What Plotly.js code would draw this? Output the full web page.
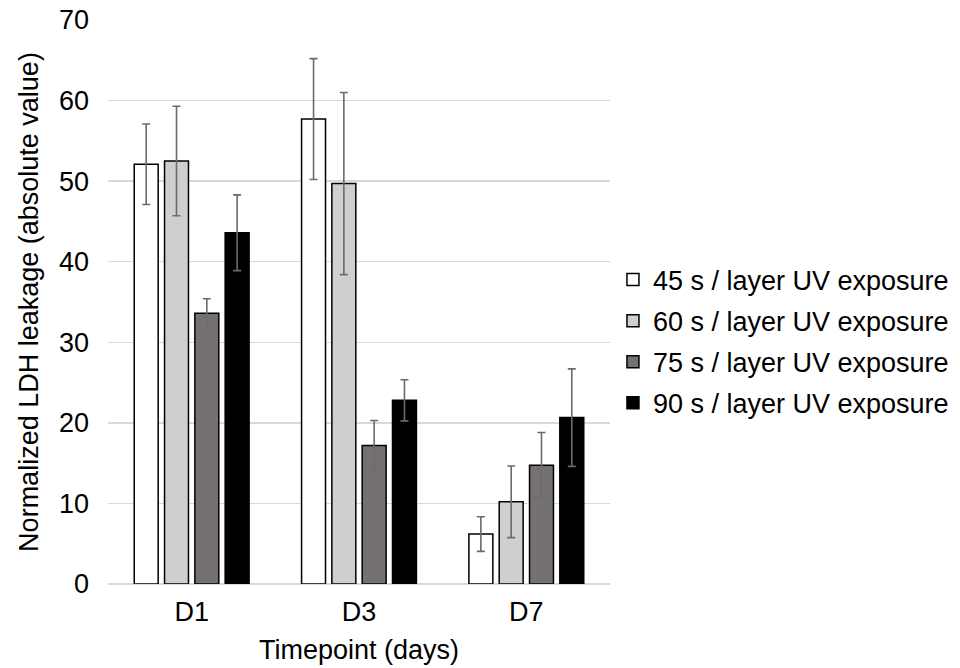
<!DOCTYPE html>
<html>
<head>
<meta charset="utf-8">
<script src="https://cdn.plot.ly/plotly-3.0.1.min.js"></script>
<style>html,body{margin:0;padding:0;background:#fff;}#chart{width:960px;height:668px;}</style>
</head>
<body>
<div id="chart"></div>
<script>
const categories = ["D1", "D3", "D7"];
const seriesNames = ["45 s / layer UV exposure", "60 s / layer UV exposure", "75 s / layer UV exposure", "90 s / layer UV exposure"];
const values45 = [52.1, 57.7, 6.2];
const errors45 = [5.0, 7.5, 2.15];
const values60 = [52.5, 49.7, 10.2];
const errors60 = [6.8, 11.3, 4.45];
const values75 = [33.6, 17.2, 14.75];
const errors75 = [1.8, 3.1, 4.05];
const values90 = [43.6, 22.8, 20.65];
const errors90 = [4.7, 2.55, 6.05];
const fills = ["#ffffff", "#d0cece", "#767171", "#000000"];

const allValues = [values45, values60, values75, values90];
const allErrors = [errors45, errors60, errors75, errors90];

const font = "Liberation Sans, Arial, sans-serif";
const fs = 27;
const traces = allValues.map((v, i) => ({
  type: "bar",
  name: seriesNames[i],
  legendgroup: "g" + i,
  x: categories,
  y: v,
  marker: {color: fills[i], line: {color: "#000000", width: 1.5}},
  error_y: {type: "data", array: allErrors[i], visible: true, color: "#6b6b6b", thickness: 1.6, width: 4}
}));

const layout = {
  width: 960, height: 668,
  margin: {l: 108, r: 350, t: 20, b: 84, autoexpand: false},
  paper_bgcolor: "#ffffff", plot_bgcolor: "#ffffff",
  font: {family: font, size: fs, color: "#000000"},
  barmode: "group",
  bargap: 0.2755,
  bargroupgap: 0.21,
  showlegend: true,
  legend: {xref: "container", x: 0.6385, xanchor: "left", yref: "paper", y: 0.43, yanchor: "middle", traceorder: "grouped", tracegroupgap: 3,
           font: {family: font, size: fs, color: "#000000"}, bgcolor: "rgba(0,0,0,0)", itemwidth: 30},
  xaxis: {
    showgrid: false, showline: false, zeroline: false, automargin: false,
    tickfont: {family: font, size: fs, color: "#000000"},
    ticklabelstandoff: 9,
    title: {text: "Timepoint (days)", font: {family: font, size: fs, color: "#000000"}, standoff: 14}
  },
  yaxis: {
    range: [0, 70], dtick: 10, tick0: 0, automargin: false,
    showgrid: true, gridcolor: "#d9d9d9", gridwidth: 1.5,
    zeroline: true, zerolinecolor: "#d9d9d9", zerolinewidth: 1.5,
    showline: false,
    tickfont: {family: font, size: fs, color: "#000000"},
    ticklabelstandoff: 18,
    title: {text: "Normalized LDH leakage (absolute value)", font: {family: font, size: fs, color: "#000000"}, standoff: 12}
  }
};

Plotly.newPlot("chart", traces, layout, {staticPlot: true, displayModeBar: false});
</script>
</body>
</html>
